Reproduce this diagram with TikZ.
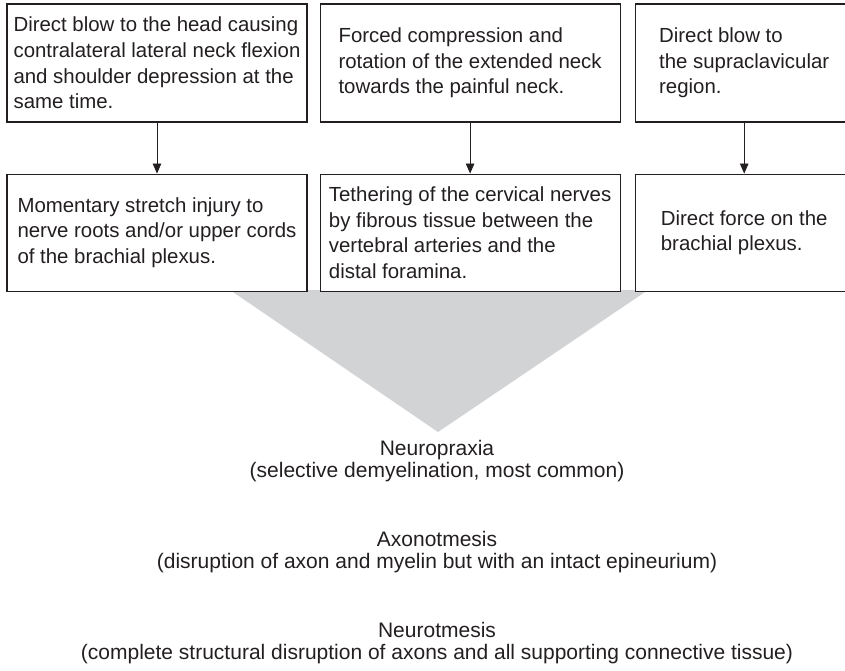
\documentclass[tikz,border=0pt]{standalone}
\usepackage{fontspec}
\setmainfont{Liberation Sans}
\usepackage{xcolor}
\usepackage{tikz}
\usetikzlibrary{arrows.meta,positioning,backgrounds}
\definecolor{wedgegray}{HTML}{D1D3D4}
\definecolor{inkgray}{HTML}{231F20}

\begin{document}
\begin{tikzpicture}[
        x=1pt, y=1pt,
        node distance=12pt,
        box/.style={rectangle, draw=inkgray, line width=1.1pt, fill=white, minimum height=118pt, align=left, text=inkgray, font=\fontsize{20.4}{25.6}\selectfont, inner sep=0pt},
        injury/.style={align=center, text=inkgray, font=\fontsize{21}{21.5}\selectfont},
        arr/.style={-{Triangle[length=10pt,width=8.5pt]}, draw=inkgray, line width=0.8pt}
    ]
        \useasboundingbox (0,0) rectangle (845,-670);
        \clip (0,0) rectangle (845,-670);

        \node[box, minimum width=300pt] (cause1) at (157,-63) {Direct blow to the head causing\\contralateral lateral neck flexion\\and shoulder depression at the\\same time.};
        \node[box, minimum width=300pt, right=12pt of cause1] (cause2) {Forced compression and\\rotation of the extended neck\\towards the painful neck.};
        \node[box, minimum width=218pt, right=14pt of cause2] (cause3) {Direct blow to\\the supraclavicular\\region.};

        \node[box, minimum width=300pt, minimum height=117pt, below=51pt of cause1] (effect1) {Momentary stretch injury to\\nerve roots and/or upper cords\\of the brachial plexus.};
        \node[box, minimum width=300pt, minimum height=117pt, below=51pt of cause2] (effect2) {Tethering of the cervical nerves\\by fibrous tissue between the\\vertebral arteries and the\\distal foramina.};
        \node[box, minimum width=218pt, minimum height=117pt, below=51pt of cause3] (effect3) {Direct force on the\\brachial plexus.};

        \draw[arr] (cause1) -- (effect1);
        \draw[arr] (cause2) -- (effect2);
        \draw[arr] (cause3) -- (effect3);

        \begin{scope}[on background layer]
            \fill[wedgegray] (230,-290) -- (648,-290) -- (438,-432) -- cycle;
        \end{scope}

        \node[injury] (praxia) at (437,-461) {Neuropraxia\\(selective demyelination, most common)};
        \node[injury, below=43pt of praxia] (axono) {Axonotmesis\\(disruption of axon and myelin but with an intact epineurium)};
        \node[injury, below=43pt of axono] (neuro) {Neurotmesis\\(complete structural disruption of axons and all supporting connective tissue)};
    \end{tikzpicture}
\end{document}
